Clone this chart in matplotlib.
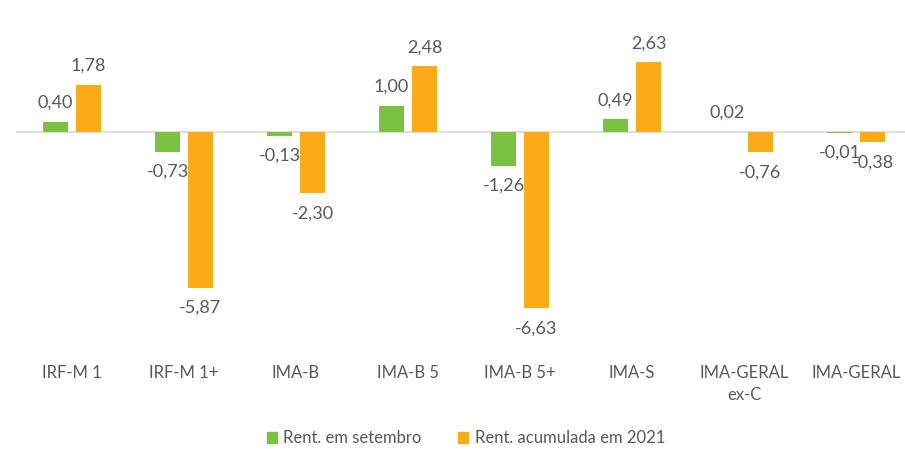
import numpy as np
import matplotlib.pyplot as plt
from matplotlib.patches import Patch

# dados
indices = ["IRF-M 1", "IRF-M 1+", "IMA-B", "IMA-B 5", "IMA-B 5+", "IMA-S",
           "IMA-GERAL\nex-C", "IMA-GERAL"]
rent_setembro = [0.40, -0.73, -0.13, 1.00, -1.26, 0.49, 0.02, -0.01]
rent_acumulada = [1.78, -5.87, -2.30, 2.48, -6.63, 2.63, -0.76, -0.38]
series = ["Rent. em setembro", "Rent. acumulada em 2021"]

verde = "#7cc242"
laranja = "#fbab18"
cinza = "#595959"

plt.rcParams["font.family"] = ["Lato", "DejaVu Sans"]

fig = plt.figure(figsize=(9.05, 4.49), dpi=100)
ax = fig.add_axes([16 / 905, 1 - 350 / 449, 896 / 905, (350 - 30) / 449])

x = np.arange(len(indices))
largura = 0.22
desloc = 0.147

b1 = ax.bar(x - desloc, rent_setembro, largura, color=verde)
b2 = ax.bar(x + desloc, rent_acumulada, largura, color=laranja)

ax.axhline(0, color="#d9d9d9", linewidth=1.2, zorder=0)

# rotulos de valor com virgula decimal
for barras, valores in [(b1, rent_setembro), (b2, rent_acumulada)]:
    for barra, v in zip(barras, valores):
        cx = barra.get_x() + barra.get_width() / 2
        texto = f"{v:.2f}".replace(".", ",")
        if v >= 0:
            ax.annotate(texto, (cx, v), xytext=(0, 11), textcoords="offset pixels",
                        ha="center", va="bottom", fontsize=13, color=cinza)
        else:
            ax.annotate(texto, (cx, v), xytext=(0, -12), textcoords="offset pixels",
                        ha="center", va="top", fontsize=13, color=cinza)

ax.set_xlim(-0.5, 7.5)
ax.set_ylim(-8.2, 3.85)
ax.set_xticks(x)
ax.set_xticklabels(indices, fontsize=12, color=cinza, linespacing=1.45)
ax.tick_params(axis="x", length=0, pad=11)
ax.set_yticks([])
for s in ax.spines.values():
    s.set_visible(False)

handles = [Patch(color=verde), Patch(color=laranja)]
fig.legend(handles, series, loc="lower center", bbox_to_anchor=(0.515, -0.02),
           ncol=2, frameon=False, fontsize=12, labelcolor=cinza, borderaxespad=0.3,
           handlelength=0.6, handleheight=0.6, handletextpad=0.4, columnspacing=2.2)

fig.savefig("out.png", dpi=100)
